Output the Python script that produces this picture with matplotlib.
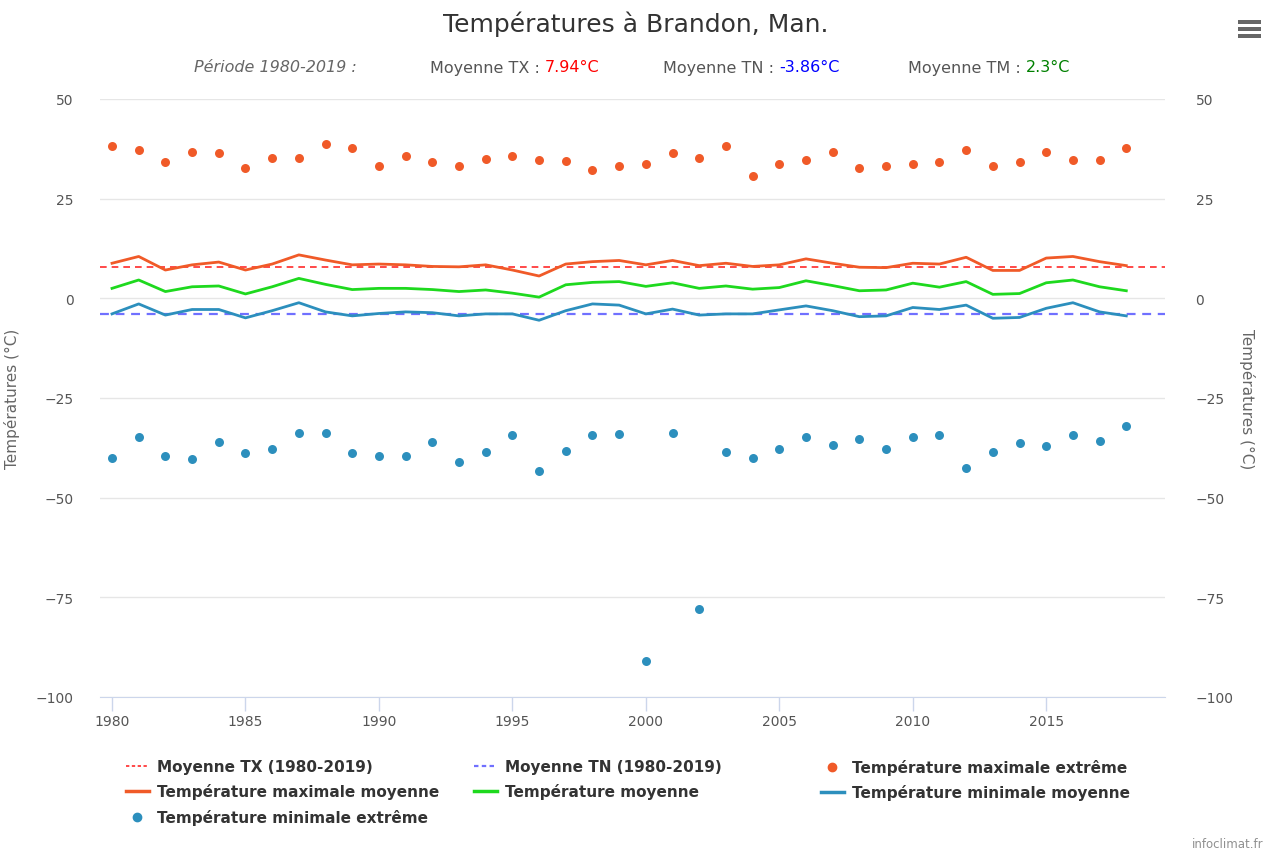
import matplotlib
matplotlib.use("Agg")
import matplotlib.pyplot as plt
from matplotlib.lines import Line2D
from matplotlib.patches import Rectangle

years = list(range(1980, 2019))

tx_extreme = [38.2, 37.1, 34.2, 36.7, 36.4, 32.7, 35.2, 35.2, 38.6, 37.8,
              33.1, 35.6, 34.2, 33.1, 34.9, 35.6, 34.6, 34.4, 32.2, 33.1,
              33.7, 36.4, 35.2, 38.2, 30.6, 33.6, 34.7, 36.7, 32.7, 33.1,
              33.6, 34.2, 37.1, 33.1, 34.2, 36.7, 34.6, 34.6, 37.8]

tx_mean = [8.8, 10.5, 7.1, 8.4, 9.1, 7.1, 8.6, 10.9, 9.6, 8.4,
           8.6, 8.4, 8.0, 7.9, 8.4, 7.1, 5.6, 8.6, 9.2, 9.5,
           8.4, 9.5, 8.2, 8.8, 8.0, 8.4, 9.9, 8.8, 7.8, 7.7,
           8.8, 8.6, 10.3, 7.0, 7.0, 10.1, 10.5, 9.2, 8.2]

tm_mean = [2.5, 4.6, 1.7, 2.9, 3.1, 1.1, 2.9, 5.0, 3.5, 2.2,
           2.5, 2.5, 2.2, 1.7, 2.1, 1.3, 0.3, 3.4, 4.0, 4.2,
           3.0, 3.9, 2.5, 3.1, 2.3, 2.7, 4.4, 3.2, 1.9, 2.1,
           3.8, 2.8, 4.2, 1.0, 1.2, 3.9, 4.6, 2.9, 1.9]

tn_mean = [-3.9, -1.4, -4.2, -2.8, -2.8, -4.9, -3.1, -1.1, -3.4, -4.4,
           -3.8, -3.4, -3.6, -4.4, -3.9, -3.9, -5.5, -3.1, -1.4, -1.7,
           -3.9, -2.7, -4.2, -3.9, -3.9, -2.9, -1.9, -3.1, -4.6, -4.4,
           -2.3, -2.8, -1.7, -5.0, -4.8, -2.5, -1.1, -3.4, -4.4]

tn_extreme = [-40.0, -34.9, -39.6, -40.4, -36.0, -38.9, -37.8, -33.8, -33.8, -38.9,
              -39.6, -39.6, -36.0, -41.1, -38.5, -34.3, -43.2, -38.3, -34.2, -34.0,
              -91.0, -33.8, -77.9, -38.5, -40.0, -37.8, -34.9, -36.7, -35.3, -37.8,
              -34.9, -34.2, -42.5, -38.5, -36.3, -37.1, -34.2, -35.7, -32.0]

mean_tx = 7.94
mean_tn = -3.86
mean_tm = 2.3

c_orange = "#f05a28"
c_green = "#1ed91e"
c_blue = "#2c8fbd"

W, H = 1271, 854
fig = plt.figure(figsize=(W / 100, H / 100), dpi=100)
ax = fig.add_axes([100 / W, 1 - 698 / H, 1065 / W, 598 / H])

ax.set_xlim(1979.55, 2019.45)
ax.set_ylim(-100, 50)
ax.set_yticks([-100, -75, -50, -25, 0, 25, 50])
ax.set_xticks(range(1980, 2019, 5))
ax.grid(axis="y", color="#e6e6e6", linewidth=1)
ax.set_axisbelow(True)
for s in ["top", "left", "right"]:
    ax.spines[s].set_visible(False)
ax.spines["bottom"].set_color("#ccd6eb")
ax.tick_params(axis="x", colors="#ccd6eb", length=10, width=1, labelcolor="#555555",
               labelsize=10, pad=2)
ax.tick_params(axis="y", length=0, labelcolor="#555555", labelsize=10, pad=19)

ax.axhline(mean_tx, color="#ff2a2a", linestyle=(0, (4, 3)), linewidth=1.2, zorder=2)
ax.axhline(mean_tn, color="#7070ff", linestyle=(0, (4, 3)), linewidth=1.6, zorder=2)
ax.plot(years, tx_mean, color=c_orange, linewidth=2, zorder=3)
ax.plot(years, tm_mean, color=c_green, linewidth=2, zorder=3)
ax.plot(years, tn_mean, color=c_blue, linewidth=2, zorder=3)
ax.scatter(years, tx_extreme, s=42, color=c_orange, zorder=4, linewidths=0)
ax.scatter(years, tn_extreme, s=42, color=c_blue, zorder=4, linewidths=0)

ax.set_ylabel("Températures (°C)", color="#666666", fontsize=11)
ax.yaxis.set_label_coords((20 - 100) / 1065, 0.5)

ax2 = ax.twinx()
ax2.set_ylim(-100, 50)
ax2.set_yticks([-100, -75, -50, -25, 0, 25, 50])
for s in ax2.spines.values():
    s.set_visible(False)
ax2.tick_params(axis="y", length=0, labelcolor="#555555", labelsize=10, pad=22)
ax2.set_ylabel("Températures (°C)", color="#666666", fontsize=11, rotation=270,
               va="center")
ax2.yaxis.set_label_coords((1247 - 100) / 1065, 0.5)

# title and subtitle
fig.text(0.5, 1 - 24 / H, "Températures à Brandon, Man.", ha="center", va="center",
         fontsize=18, color="#333333")
sub_y = 1 - 68 / H
fig.text(194 / W, sub_y, "Période 1980-2019 :", ha="left", va="center", fontsize=11.5,
         style="italic", color="#666666")
parts = [(430, "Moyenne TX : ", "7.94°C", "#ff0000"),
         (663, "Moyenne TN : ", "-3.86°C", "#0000ff"),
         (908, "Moyenne TM : ", "2.3°C", "#008000")]
for x0, lab, val, col in parts:
    t = fig.text(x0 / W, sub_y, lab, ha="left", va="center", fontsize=11.5,
                 color="#555555")
    fig.canvas.draw()
    bb = t.get_window_extent()
    fig.text(bb.x1 / W, sub_y, val, ha="left", va="center", fontsize=11.5, color=col)

# hamburger menu
for yy in [23, 30, 37]:
    fig.add_artist(Rectangle((1238 / W, 1 - (yy + 1.7) / H), 23 / W, 3.4 / H,
                             transform=fig.transFigure, color="#666666", linewidth=0))

fig.text(1228 / W, 1 - 845 / H, "infoclimat.fr", ha="center", va="center",
         fontsize=8.5, color="#909090")

# legend (three columns)
h_tx = Line2D([], [], color="#ff2a2a", linestyle=(0, (2, 1.5)), linewidth=1.2)
h_tn = Line2D([], [], color="#7070ff", linestyle=(0, (2, 1.5)), linewidth=1.6)
h_txe = Line2D([], [], color=c_orange, marker="o", linestyle="none", markersize=6)
h_txm = Line2D([], [], color=c_orange, linewidth=2.5)
h_tm = Line2D([], [], color=c_green, linewidth=2.5)
h_tnm = Line2D([], [], color=c_blue, linewidth=2.5)
h_tne = Line2D([], [], color=c_blue, marker="o", linestyle="none", markersize=6)

cols = [
    (126, [h_tx, h_txm, h_tne], ["Moyenne TX (1980-2019)", "Température maximale moyenne",
                                 "Température minimale extrême"]),
    (474, [h_tn, h_tm], ["Moyenne TN (1980-2019)", "Température moyenne"]),
    (821, [h_txe, h_tnm], ["Température maximale extrême", "Température minimale moyenne"]),
]
for x0, hs, ls in cols:
    fig.legend(hs, ls, loc="upper left", bbox_to_anchor=(x0 / W, 1 - 760 / H),
               frameon=False, handlelength=1.5, handletextpad=0.5, labelspacing=0.62,
               borderaxespad=0, borderpad=0,
               prop={"weight": "bold", "size": 11}, labelcolor="#333333")

fig.savefig("out.png", dpi=100, facecolor="white")
